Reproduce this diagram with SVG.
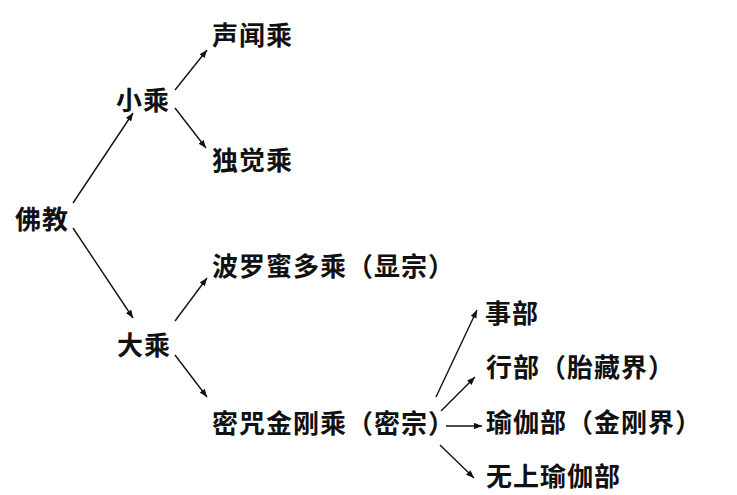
<svg xmlns="http://www.w3.org/2000/svg" width="737" height="495" viewBox="0 0 737 495">
<style>
text{font-family:"Noto Sans CJK SC","Noto Sans",sans-serif;font-size:26px;font-weight:bold;fill:#111;dominant-baseline:central;letter-spacing:1px}
.c line{stroke:#111;stroke-width:1.4;marker-end:url(#ah)}
</style>
<defs>
<marker id="ah" viewBox="0 0 10 8" refX="10" refY="4" markerWidth="8" markerHeight="6.4" markerUnits="userSpaceOnUse" orient="auto">
<path d="M0,0 L10,4 L0,8 z" fill="#111"/>
</marker>
</defs>
<rect width="737" height="495" fill="#fff"/>
<g id="n-fojiao"><text x="15" y="217">佛教</text></g>
<g id="n-xiaocheng"><text x="116" y="98">小乘</text></g>
<g id="n-shengwen"><text x="212" y="33">声闻乘</text></g>
<g id="n-dujue"><text x="212" y="158">独觉乘</text></g>
<g id="n-dacheng"><text x="117" y="343">大乘</text></g>
<g id="n-boluomi"><text x="212" y="264">波罗蜜多乘（显宗）</text></g>
<g id="n-mizhou"><text x="212" y="421">密咒金刚乘（密宗）</text></g>
<g id="n-shibu"><text x="485" y="311">事部</text></g>
<g id="n-xingbu"><text x="486" y="365">行部（胎藏界）</text></g>
<g id="n-yujia"><text x="486" y="420">瑜伽部（金刚界）</text></g>
<g id="n-wushang"><text x="486" y="474">无上瑜伽部</text></g>
<g class="c" id="connectors">
<line x1="73" y1="203" x2="133" y2="113"/>
<line x1="73" y1="228" x2="133" y2="318"/>
<line x1="175" y1="90" x2="207" y2="50"/>
<line x1="175" y1="108" x2="206" y2="148"/>
<line x1="175" y1="321" x2="207" y2="278"/>
<line x1="175" y1="355" x2="207" y2="397"/>
<line x1="436" y1="397" x2="477" y2="310"/>
<line x1="441" y1="411" x2="475" y2="377"/>
<line x1="446" y1="426" x2="482" y2="426"/>
<line x1="440" y1="445" x2="474" y2="478"/>
</g>
</svg>
